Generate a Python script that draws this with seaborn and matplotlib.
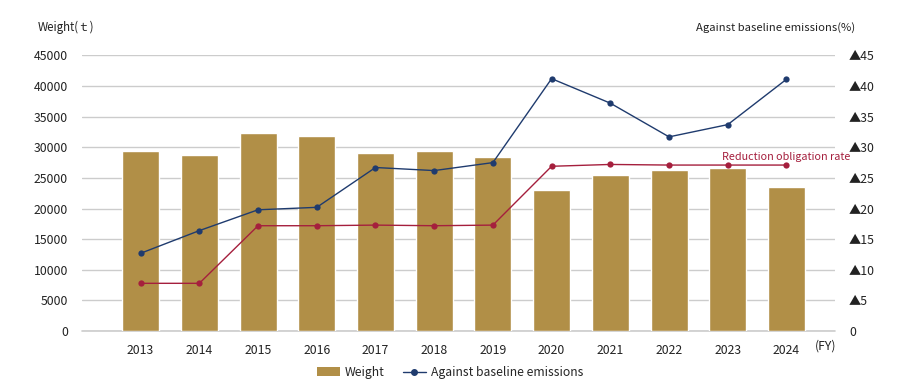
import numpy as np
import pandas as pd
import matplotlib
matplotlib.use("Agg")
import matplotlib.pyplot as plt
import seaborn as sns
from matplotlib.patches import Patch
from matplotlib.lines import Line2D

# Data
years = ["2013", "2014", "2015", "2016", "2017", "2018", "2019",
         "2020", "2021", "2022", "2023", "2024"]
weight = [29400, 28700, 32300, 31800, 29100, 29400, 28400,
          23100, 25500, 26300, 26600, 23600]
against_baseline = [12.7, 16.4, 19.8, 20.2, 26.7, 26.2, 27.5,
                    41.2, 37.2, 31.7, 33.7, 41.1]
obligation_rate = [7.8, 7.8, 17.2, 17.2, 17.3, 17.2, 17.3,
                   26.9, 27.2, 27.1, 27.1, 27.1]
left_ticks = list(range(0, 45001, 5000))
right_ticks = list(range(0, 46, 5))
right_labels = ["0"] + ["\u25b2" + str(t) for t in right_ticks[1:]]

gold = "#B18F47"
navy = "#1F3B6E"
crimson = "#A51F3D"
txt = "#222222"

sns.set_theme(style="white")
plt.rcParams["font.family"] = ["Noto Sans CJK JP", "DejaVu Sans"]

df = pd.DataFrame({"year": years, "weight": weight})
pos = np.arange(len(years))

fig = plt.figure(figsize=(9, 3.9), dpi=100)
ax = fig.add_axes([0.091, 0.151, 0.837, 0.707])

sns.barplot(data=df, x="year", y="weight", color=gold, saturation=1,
            width=0.63, ax=ax, zorder=2)
ax.set_ylim(0, 45000)
ax.set_xlim(-1, 11.83)
ax.set_yticks(left_ticks)
ax.set_yticklabels([str(t) for t in left_ticks])
ax.yaxis.grid(True, color="#CCCCCC", linewidth=1)
ax.axhline(0, color="#CCCCCC", linewidth=1.2, zorder=1, clip_on=False)
ax.set_axisbelow(True)
ax.set_xlabel("")
ax.set_ylabel("")
for s in ax.spines.values():
    s.set_visible(False)
ax.tick_params(axis="both", length=0, labelsize=8.8, colors=txt)
ax.tick_params(axis="y", pad=10)
ax.tick_params(axis="x", pad=9)

ax2 = ax.twinx()
sns.lineplot(x=pos, y=obligation_rate, ax=ax2, color=crimson, marker="o",
             markersize=4.5, markeredgewidth=0, linewidth=1)
sns.lineplot(x=pos, y=against_baseline, ax=ax2, color=navy, marker="o",
             markersize=4.5, markeredgewidth=0, linewidth=1)
ax2.set_ylim(0, 45)
ax2.set_yticks(right_ticks)
ax2.set_yticklabels(right_labels)
for s in ax2.spines.values():
    s.set_visible(False)
ax2.tick_params(axis="y", length=0, labelsize=8.8, colors=txt, pad=10)
ax2.set_ylabel("")

ax2.text(11, 27.6, "Reduction obligation rate", color=crimson, fontsize=7.8,
         ha="center", va="bottom")
ax.text(11.67, -0.03, "(FY)", transform=ax.get_xaxis_transform(),
        ha="center", va="top", fontsize=8.8, color=txt)

fig.text(0.042, 0.93, "Weight(\uff54)", fontsize=8.3, ha="left", va="center",
         color=txt)
fig.text(0.95, 0.93, "Against baseline emissions(%)", fontsize=8.1,
         ha="right", va="center", color=txt)

handles = [Patch(facecolor=gold, edgecolor="none", label="Weight"),
           Line2D([0], [0], color=navy, marker="o", markersize=4,
                  linewidth=1, label="Against baseline emissions")]
fig.legend(handles=handles, loc="center", bbox_to_anchor=(0.5, 0.045),
           ncol=2, frameon=False, fontsize=8.8, handlelength=1.9,
           handletextpad=0.4, columnspacing=1.5)

fig.savefig("out.png", dpi=100)
